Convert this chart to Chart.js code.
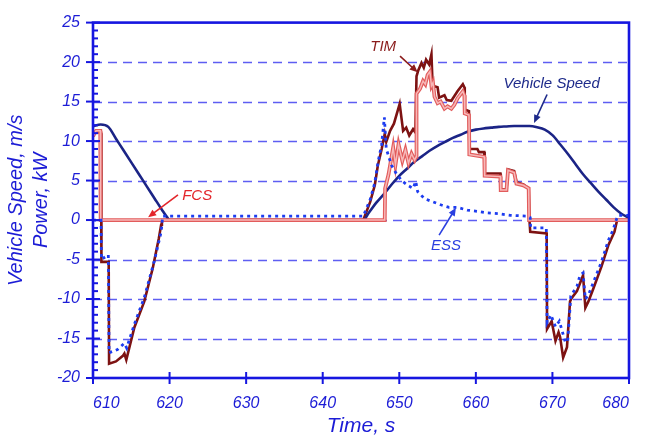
<!DOCTYPE html>
<html>
<head>
<meta charset="utf-8">
<script src="https://cdn.jsdelivr.net/npm/chart.js@4.4.1/dist/chart.umd.min.js"></script>
<style>
  html, body { margin: 0; padding: 0; background: #ffffff; }
  #wrap { width: 645px; height: 437px; position: relative; }
</style>
</head>
<body>
<div id="wrap"><canvas id="chart"></canvas></div>
<script>
// Axis ranges and tick spacing
const timeRange = [610, 680];
const timeStep = 10;
const valueRange = [-20, 25];
const valueStep = 5;

// Vehicle speed, m/s
const speedTime = [610, 611, 612, 613, 614, 615, 616, 617, 618, 619, 619.8, 620, 645.3, 646, 647, 648, 649, 650, 651, 652, 653, 654, 655, 656, 657, 658, 659, 660, 661, 662, 663, 664, 665, 666, 667, 668, 669, 670, 671, 672, 673, 674, 675, 676, 677, 678, 679, 680];
const speedValue = [11.9, 12.1, 11.8, 10.3, 8.8, 7.3, 5.8, 4.3, 2.8, 1.3, 0.2, 0, 0, 0.9, 2.2, 3.3, 4.5, 5.6, 6.5, 7.4, 8.1, 8.8, 9.4, 9.9, 10.4, 10.8, 11.2, 11.45, 11.6, 11.7, 11.8, 11.85, 11.9, 11.9, 11.9, 11.75, 11.45, 10.75, 9.6, 8.4, 7.1, 5.8, 4.7, 3.6, 2.6, 1.6, 0.8, 0.3];

// Traction motor (TIM) power, kW
const timTime = [610, 610.5, 611.05, 611.1, 612.05, 612.1, 613.0, 613.9, 614.1, 614.35, 615.4, 616.7, 617.8, 618.6, 618.9, 619.0, 645.3, 646.2, 646.8, 647.2, 647.7, 648.1, 648.3, 648.8, 649.3, 650.05, 650.5, 650.9, 651.3, 651.8, 652.1, 652.25, 652.5, 652.9, 653.2, 653.5, 653.9, 654.2, 654.35, 655.0, 655.2, 655.9, 656.2, 656.8, 657.6, 658.3, 658.5, 658.55, 659.1, 659.15, 660.2, 660.4, 661.1, 661.15, 663.2, 663.25, 664.0, 664.2, 665.0, 665.3, 666.2, 666.9, 667.0, 667.1, 669.25, 669.3, 669.9, 670.4, 670.8, 671.0, 671.4, 671.9, 672.3, 672.5, 673.2, 673.6, 674.0, 674.3, 674.7, 675.3, 676.4, 677.3, 678.1, 678.4, 678.5, 680];
const timPower = [10.8, 11.2, 11.0, -5.3, -5.3, -18.2, -17.9, -17.2, -16.9, -17.7, -13.6, -10.3, -6.1, -2.3, -0.6, 0, 0, 2.3, 4.4, 6.9, 9.0, 10.9, 9.9, 11.3, 12.2, 14.7, 11.3, 11.7, 10.7, 11.5, 11.1, 18.2, 19.0, 19.9, 19.3, 20.3, 19.7, 21.0, 17.0, 16.8, 15.5, 15.8, 15.2, 15.1, 16.3, 17.2, 16.8, 14.0, 13.8, 9.0, 9.0, 8.6, 8.6, 5.9, 5.9, 3.9, 3.9, 6.4, 6.2, 4.8, 4.5, 4.0, 0, -1.5, -1.7, -13.8, -12.8, -15.3, -14.2, -14.8, -17.4, -16.1, -10.3, -9.9, -9.0, -8.0, -7.0, -11.1, -10.3, -8.8, -5.9, -3.2, -1.5, -0.2, 0, 0];

// Fuel cell system (FCS) power, kW
const fcsTime = [610, 610.4, 610.95, 611.0, 648.1, 648.15, 648.6, 649.2, 649.5, 649.9, 650.4, 650.8, 651.2, 651.6, 652.0, 652.2, 652.25, 652.7, 653.1, 653.4, 653.7, 654.0, 654.2, 654.4, 654.6, 655.0, 655.4, 655.9, 656.3, 656.8, 657.2, 657.6, 658.3, 658.5, 658.55, 659.1, 659.15, 661.1, 661.15, 663.2, 663.25, 664.0, 664.2, 665.0, 665.3, 666.2, 666.9, 666.95, 680];
const fcsPower = [10.6, 11.3, 11.3, 0, 0, 4.0, 5.8, 9.2, 7.0, 9.6, 7.5, 8.9, 7.2, 8.4, 7.6, 8.0, 16.0, 16.6, 17.6, 17.2, 18.4, 18.8, 17.0, 17.4, 15.6, 14.8, 15.0, 14.1, 14.4, 14.1, 14.6, 15.4, 16.3, 15.8, 13.5, 13.3, 8.3, 8.0, 5.6, 5.5, 3.8, 3.8, 6.3, 6.0, 4.6, 4.4, 4.0, 0, 0];

// Energy storage system (ESS) power, kW
const essTime = [610, 611.05, 611.1, 612.0, 612.1, 613.2, 614.1, 614.4, 615.4, 616.7, 618.0, 618.9, 619.1, 645.3, 646.2, 646.8, 647.2, 647.7, 648.05, 648.3, 649.0, 649.6, 650.3, 651.1, 651.8, 652.15, 652.4, 653.3, 654.4, 655.5, 656.5, 657.6, 658.9, 660.2, 661.5, 663.0, 664.5, 666.7, 667.1, 667.15, 669.2, 669.3, 669.8, 670.4, 670.9, 671.7, 672.0, 672.4, 673.2, 673.6, 674.0, 674.3, 674.7, 675.3, 676.4, 677.3, 677.9, 678.4, 678.6, 680];
const essPower = [0, 0, -5.0, -4.4, -16.8, -16.4, -15.6, -16.2, -13.2, -9.8, -5.2, -1.5, 0.5, 0.5, 2.6, 4.7, 7.2, 9.6, 13.0, 9.0, 6.9, 5.9, 5.0, 4.4, 4.0, 4.9, 3.6, 2.7, 2.3, 1.9, 1.6, 1.6, 1.25, 1.1, 0.9, 0.8, 0.6, 0.5, 0.3, -1.0, -1.0, -13.0, -12.0, -13.5, -12.8, -15.5, -15.3, -9.6, -8.4, -7.0, -6.7, -10.0, -9.5, -8.0, -5.3, -2.6, -1.3, 0.2, 0.6, 0.6];

// Callout labels with arrows, placed in time / value units
const callouts = [
  { text: 'TIM',           color: '#8b1c1c', at: [647.9, 21.9],  from: [650.1, 20.75], to: [652.4, 18.7] },
  { text: 'Vehicle Speed', color: '#1d2a8a', at: [669.9, 17.3],  from: [669.3, 15.9],  to: [667.6, 12.3] },
  { text: 'FCS',           color: '#e3262b', at: [623.6, 3.05],  from: [621.1, 3.2],   to: [617.2, 0.35] },
  { text: 'ESS',           color: '#2a3fe0', at: [656.1, -3.25], from: [655.2, -1.9],  to: [657.4, 1.55] }
];

const toPoints = (ts, vs) => ts.map((t, i) => ({ x: t, y: vs[i] }));

const AXIS_BLUE = '#1616e0';
const GRID_BLUE = '#5e5ef2';
const LABEL_BLUE = '#1c1cd6';
const FONT_FAMILY = "'Liberation Sans', Arial, Helvetica, sans-serif";

// Frame, dashed grid, inward minor ticks and callouts
const decorations = {
  id: 'decorations',
  beforeDatasetsDraw(chart) {
    const { ctx, chartArea: a, scales: { y } } = chart;
    ctx.save();
    ctx.strokeStyle = GRID_BLUE;
    ctx.lineWidth = 1.3;
    ctx.setLineDash([9, 6]);
    for (let v = valueRange[0] + valueStep; v < valueRange[1]; v += valueStep) {
      const py = Math.round(y.getPixelForValue(v)) + 0.5;
      ctx.beginPath();
      ctx.moveTo(a.left, py);
      ctx.lineTo(a.right, py);
      ctx.stroke();
    }
    ctx.restore();
  },
  afterDatasetsDraw(chart) {
    const { ctx, chartArea: a, scales: { x, y } } = chart;
    ctx.save();
    ctx.strokeStyle = AXIS_BLUE;
    ctx.lineWidth = 2.6;
    ctx.setLineDash([]);
    ctx.strokeRect(a.left, a.top, a.right - a.left, a.bottom - a.top);

    // left axis: minor ticks every unit, major ticks every step
    ctx.lineWidth = 2;
    for (let v = valueRange[0]; v <= valueRange[1]; v += 1) {
      const py = y.getPixelForValue(v);
      const major = v % valueStep === 0;
      ctx.beginPath();
      ctx.moveTo(a.left - (major ? 7 : 0), py);
      ctx.lineTo(a.left + (major ? 7 : 5), py);
      ctx.stroke();
    }
    // bottom axis major ticks
    for (let t = timeRange[0]; t <= timeRange[1]; t += timeStep) {
      const px = x.getPixelForValue(t);
      ctx.beginPath();
      ctx.moveTo(px, a.bottom - 6);
      ctx.lineTo(px, a.bottom + 6);
      ctx.stroke();
    }

    // callouts
    ctx.font = 'italic 15px ' + FONT_FAMILY;
    ctx.textAlign = 'center';
    ctx.textBaseline = 'middle';
    callouts.forEach(c => {
      const tx = x.getPixelForValue(c.at[0]), ty = y.getPixelForValue(c.at[1]);
      const x1 = x.getPixelForValue(c.from[0]), y1 = y.getPixelForValue(c.from[1]);
      const x2 = x.getPixelForValue(c.to[0]), y2 = y.getPixelForValue(c.to[1]);
      ctx.fillStyle = c.color;
      ctx.strokeStyle = c.color;
      ctx.fillText(c.text, tx, ty);
      const ang = Math.atan2(y2 - y1, x2 - x1);
      const head = 8, half = 3.5;
      ctx.lineWidth = 1.6;
      ctx.beginPath();
      ctx.moveTo(x1, y1);
      ctx.lineTo(x2 - Math.cos(ang) * head * 0.8, y2 - Math.sin(ang) * head * 0.8);
      ctx.stroke();
      ctx.beginPath();
      ctx.moveTo(x2, y2);
      ctx.lineTo(x2 - Math.cos(ang) * head + Math.sin(ang) * half, y2 - Math.sin(ang) * head - Math.cos(ang) * half);
      ctx.lineTo(x2 - Math.cos(ang) * head - Math.sin(ang) * half, y2 - Math.sin(ang) * head + Math.cos(ang) * half);
      ctx.closePath();
      ctx.fill();
    });
    ctx.restore();
  }
};

const line = (extra) => Object.assign({
  pointRadius: 0,
  pointHoverRadius: 0,
  fill: false,
  tension: 0,
  borderJoinStyle: 'miter',
  borderCapStyle: 'butt'
}, extra);

new Chart(document.getElementById('chart'), {
  type: 'line',
  data: {
    datasets: [
      line({ label: 'ESS', data: toPoints(essTime, essPower), borderColor: '#1d3cf0', borderWidth: 2.8, borderDash: [3, 4] }),
      line({ label: 'FCS', data: toPoints(fcsTime, fcsPower), borderColor: '#f7b8b8', borderWidth: 1.5 }),
      line({ label: 'FCS outline', data: toPoints(fcsTime, fcsPower), borderColor: '#e25c5c', borderWidth: 3.8 }),
      line({ label: 'Vehicle Speed', data: toPoints(speedTime, speedValue), borderColor: '#1b2486', borderWidth: 2.6, cubicInterpolationMode: 'monotone', borderJoinStyle: 'round' }),
      line({ label: 'TIM', data: toPoints(timTime, timPower), borderColor: '#7d1212', borderWidth: 2.6 })
    ]
  },
  options: {
    responsive: true,
    maintainAspectRatio: false,
    animation: false,
    devicePixelRatio: 1,
    events: [],
    layout: { padding: { top: 20, right: 12, bottom: 0, left: 0 } },
    plugins: { legend: { display: false }, tooltip: { enabled: false } },
    scales: {
      x: {
        type: 'linear',
        min: timeRange[0],
        max: timeRange[1],
        grid: { display: false, drawTicks: false },
        border: { display: false },
        ticks: {
          stepSize: timeStep,
          align: 'inner',
          padding: 16,
          color: LABEL_BLUE,
          font: { family: FONT_FAMILY, size: 16, style: 'italic' }
        },
        title: {
          display: true,
          text: 'Time, s',
          color: LABEL_BLUE,
          padding: { top: 0, bottom: 0 },
          font: { family: FONT_FAMILY, size: 21, style: 'italic', lineHeight: 1 }
        },
        afterFit(scale) { scale.height = 59; }
      },
      y: {
        type: 'linear',
        min: valueRange[0],
        max: valueRange[1],
        grid: { display: false, drawTicks: false },
        border: { display: false },
        ticks: {
          stepSize: valueStep,
          padding: 13,
          color: LABEL_BLUE,
          font: { family: FONT_FAMILY, size: 16, style: 'italic' }
        },
        title: {
          display: true,
          text: ['Vehicle Speed, m/s', 'Power, kW'],
          color: LABEL_BLUE,
          padding: { top: 4, bottom: 0 },
          font: { family: FONT_FAMILY, size: 20, style: 'italic', lineHeight: 1.25 }
        },
        afterFit(scale) { scale.width = 93; }
      }
    }
  },
  plugins: [decorations]
});
</script>
</body>
</html>
